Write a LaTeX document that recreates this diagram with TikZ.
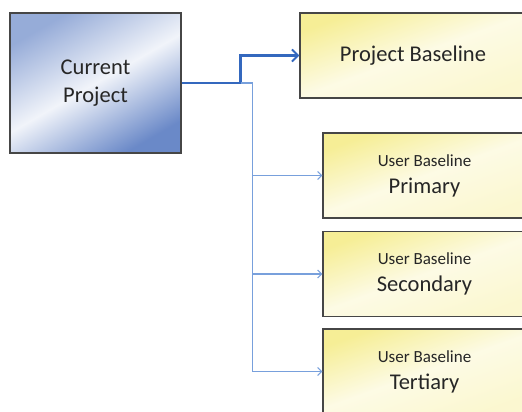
\documentclass[tikz,border=0pt]{standalone}
\usepackage{fontspec}
\setmainfont{Carlito}
\usepackage{tikz}
\usetikzlibrary{arrows.meta}
\definecolor{projclr}{RGB}{80,116,190}
\definecolor{baseclr}{RGB}{246,238,150}
\definecolor{frameclr}{RGB}{70,70,70}
\definecolor{linkclr}{RGB}{52,104,190}
\definecolor{branchclr}{RGB}{120,160,220}
\tikzset{
    curbox/.style={rectangle,draw=frameclr,line width=1.2pt,minimum width=171pt,minimum height=140pt,
        left color=projclr!60,right color=projclr!85,middle color=projclr!8,shading angle=30,
        align=center,font=\fontsize{22.5}{28}\selectfont,text=black!85},
    basebox/.style={rectangle,draw=frameclr,line width=1.2pt,minimum width=226pt,minimum height=85pt,
        left color=baseclr,right color=baseclr!45,middle color=baseclr!25,shading angle=20,
        align=center,font=\fontsize{22.5}{28}\selectfont,text=black!85},
    userbox/.style={basebox,minimum width=203pt},
    mainlink/.style={-{Straight Barb[length=6pt,width=12pt,line width=2pt]},draw=linkclr,line width=2.6pt},
    sublink/.style={-{Straight Barb[length=4pt,width=8pt]},draw=branchclr,line width=1.1pt},
}
\newcommand{\usertag}[1]{{\fontsize{17}{20}\selectfont User Baseline}\\[-1pt]#1}
\begin{document}
\begin{tikzpicture}[x=1pt,y=-1pt]
\useasboundingbox (0,0) rectangle (522,412);
\clip (0,0) rectangle (522,412);
\node[curbox] (cur) at (95.5,83) {Current\\Project};
\node[basebox] (pb) at (413,55.5) {Project Baseline};
\node[userbox] (ub1) at (424.5,175.5) {\usertag{Primary}};
\node[userbox] (ub2) at (424.5,274) {\usertag{Secondary}};
\node[userbox] (ub3) at (424.5,371.5) {\usertag{Tertiary}};
% feed to the baselines
\draw[mainlink] (cur.east) -- ++(59,0) coordinate (split) |- (pb.west);
\draw[sublink,-] (split) -- ++(12,0) coordinate (bus);
\foreach \n in {ub1,ub2,ub3}
  \draw[sublink] (bus) |- (\n.west);
\end{tikzpicture}
\end{document}
